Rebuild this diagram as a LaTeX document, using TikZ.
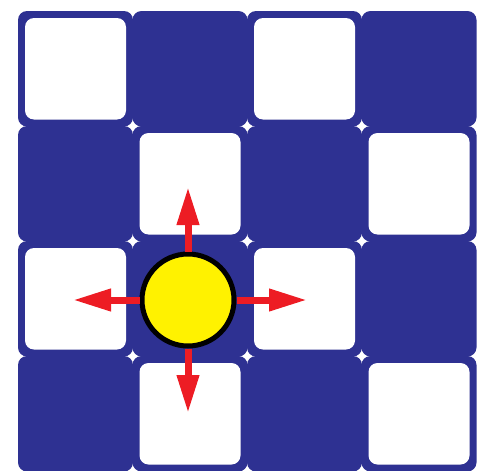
\documentclass[tikz,border=0pt]{standalone}
\usepackage{tikz}
\usetikzlibrary{positioning,arrows.meta}
\definecolor{bnavy}{HTML}{2E3192}
\definecolor{bred}{HTML}{ED1C24}
\definecolor{bsun}{HTML}{FFF200}
\tikzset{
  cb/.style   = {fill=bnavy, draw=none, rounded corners=9pt, minimum width=115pt,
                 minimum height=115.5pt, inner sep=0pt, outer sep=0pt},
  cw/.style   = {cb, path picture={\fill[white, rounded corners=9pt]
                 ([shift={(7pt,7pt)}]path picture bounding box.south west) rectangle
                 ([shift={(-7pt,-7pt)}]path picture bounding box.north east);}},
  ball/.style = {circle, fill=bsun, draw=black, line width=5pt, minimum size=92pt,
                 inner sep=0pt},
  a/.style    = {-{Triangle[length=38pt,width=21pt]}, line width=7pt, draw=bred},
  node distance = -0.5pt,
}
\begin{document}
\begin{tikzpicture}[x=1pt,y=-1pt]
\useasboundingbox (0,0) rectangle (477,471);

% ---- row 1
\node[cw] (a1) at (75.5,68.75) {};
\node[cb, right=of a1] (a2) {};
\node[cw, right=of a2] (a3) {};
\node[cb, right=of a3] (a4) {};
% ---- row 2
\node[cb, below=of a1] (b1) {};
\node[cw, right=of b1] (b2) {};
\node[cb, right=of b2] (b3) {};
\node[cw, right=of b3] (b4) {};
% ---- row 3
\node[cw, below=of b1] (c1) {};
\node[cb, right=of c1] (c2) {};
\node[cw, right=of c2] (c3) {};
\node[cb, right=of c3] (c4) {};
% ---- row 4
\node[cb, below=of c1] (d1) {};
\node[cw, right=of d1] (d2) {};
\node[cb, right=of d2] (d3) {};
\node[cw, right=of d3] (d4) {};

% ---- the piece and where it may go
\node[ball] (ball) at (188,300) {};
\coordinate (up)    at (188,187);
\coordinate (down)  at (188,413);
\coordinate (left)  at (73,300);
\coordinate (right) at (307,300);
\draw[a] (ball) -- (up);
\draw[a] (ball) -- (down);
\draw[a] (ball) -- (left);
\draw[a] (ball) -- (right);

\end{tikzpicture}
\end{document}
